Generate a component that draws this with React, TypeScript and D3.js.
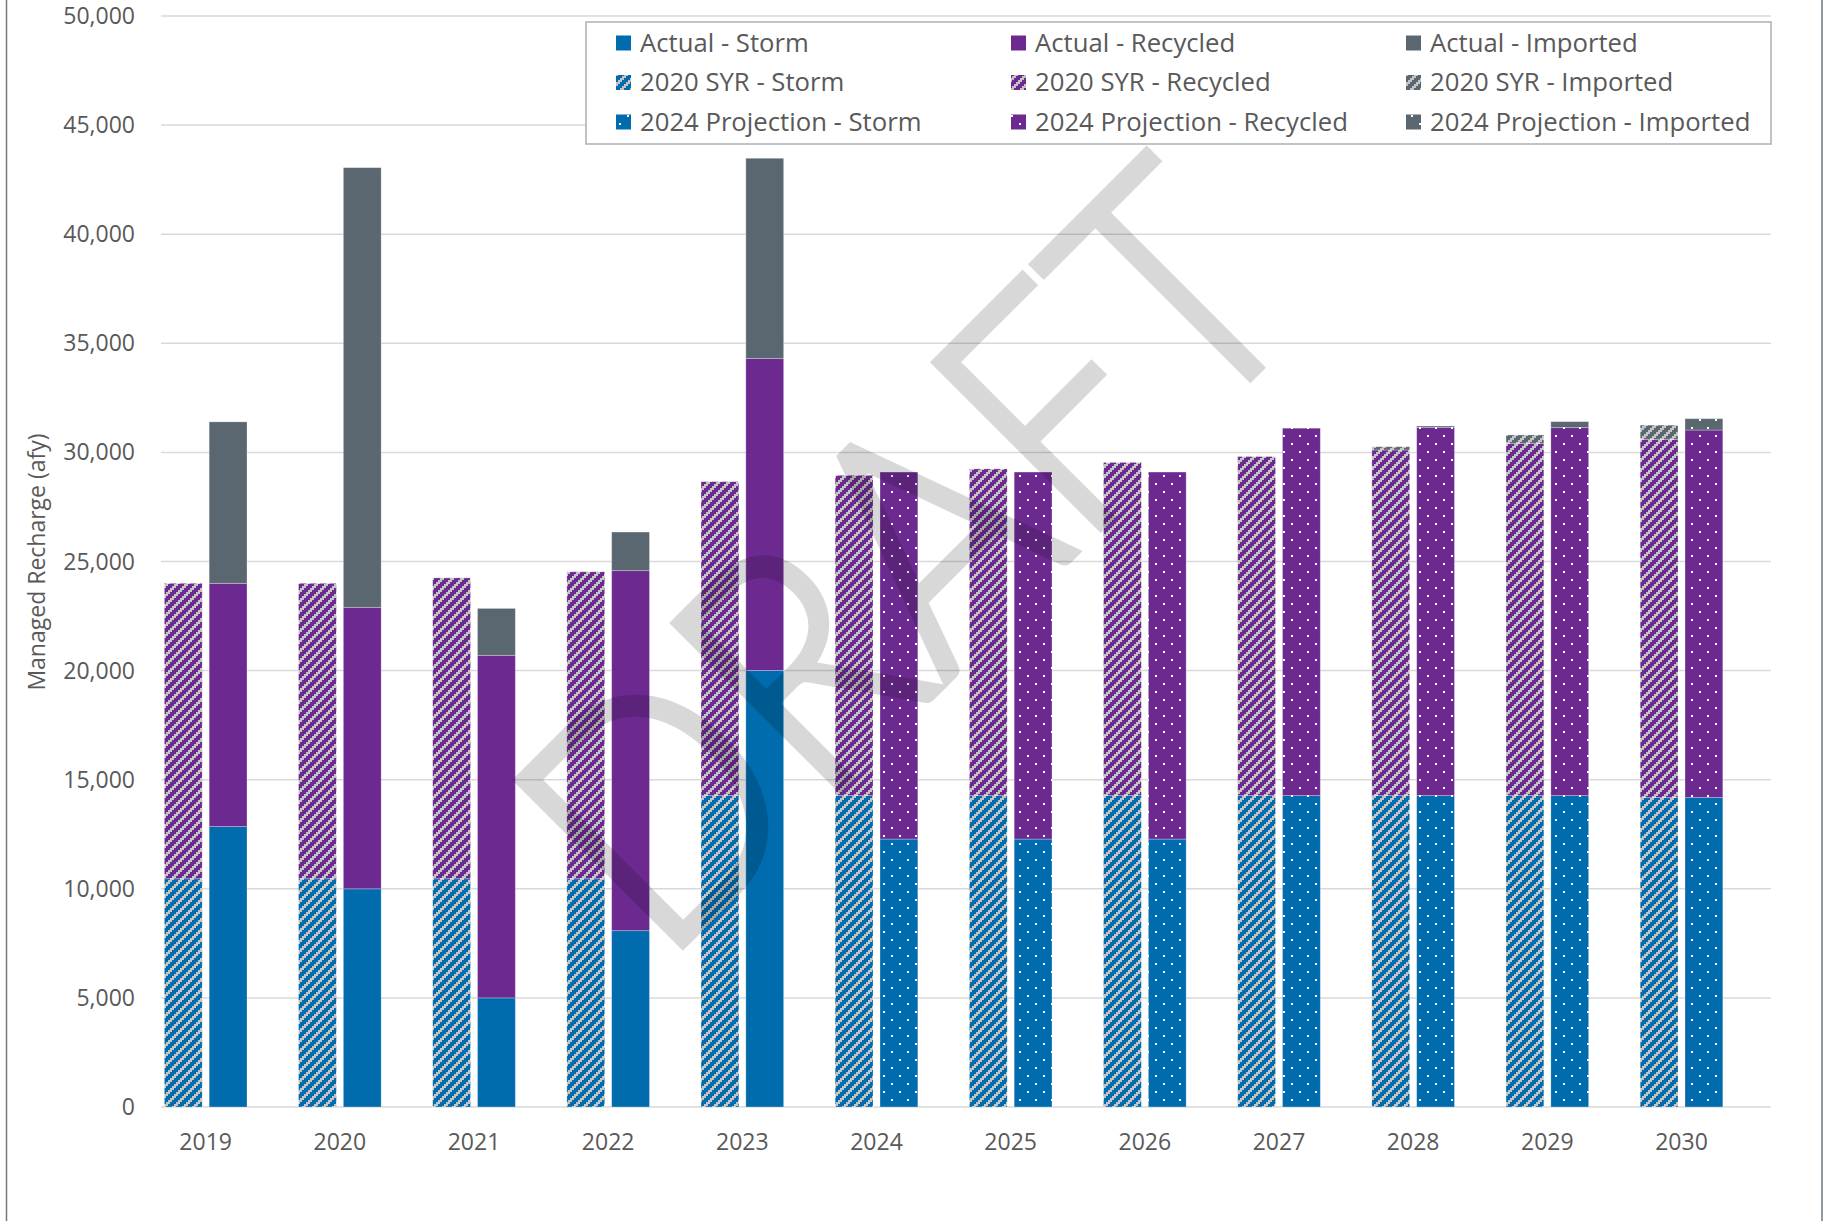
import React from "react";
import * as d3 from "d3";

// years on the category axis
const years = ["2019", "2020", "2021", "2022", "2023", "2024", "2025", "2026", "2027", "2028", "2029", "2030"];

// 2020 SYR (hatched, first bar of each year)
const syrStorm = [10460, 10460, 10460, 10460, 14270, 14270, 14270, 14270, 14270, 14270, 14270, 14180];
const syrRecycled = [13540, 13540, 13790, 14070, 14390, 14680, 14975, 15270, 15540, 15840, 16145, 16420];
const syrImported = [0, 0, 0, 0, 0, 0, 0, 0, 0, 150, 385, 650];

// Actual (solid, 2019-2023)
const actualStorm = [12850, 10000, 5000, 8080, 20010];
const actualRecycled = [11150, 12900, 15700, 16500, 14290];
const actualImported = [7400, 20150, 2150, 1770, 9180];

// 2024 Projection (dotted, 2024-2030)
const projStorm = [12280, 12280, 12280, 14270, 14270, 14270, 14180];
const projRecycled = [16820, 16820, 16820, 16840, 16880, 16865, 16845];
const projImported = [0, 0, 0, 0, 60, 275, 520];

const yTicks = [0, 5000, 10000, 15000, 20000, 25000, 30000, 35000, 40000, 45000, 50000];

const legendRows = ["Actual", "2020 SYR", "2024 Projection"];
const legendCols = ["Storm", "Recycled", "Imported"];

const colors: Record<string, string> = {
  storm: "#006bad",
  recycled: "#6c2a91",
  imported: "#5b6770",
};
const keys = ["storm", "recycled", "imported"];
const textColor = "#595959";
const font = "'Open Sans', 'Noto Sans', sans-serif";

const W = 1826;
const H = 1221;

export default function App() {
  const y = d3.scaleLinear().domain([0, 50000]).range([1107, 16]);
  const x0 = d3.scaleBand<string>().domain(years).range([161, 1771]);
  const slot = d3
    .scaleBand<string>()
    .domain(["first", "second", "spare"])
    .range([0, x0.bandwidth()])
    .paddingInner(0.156)
    .paddingOuter(0.075);

  // one row per drawn bar
  const rows: any[] = [];
  years.forEach((yr, i) => {
    rows.push({ year: yr, slot: "first", style: "hatch", storm: syrStorm[i], recycled: syrRecycled[i], imported: syrImported[i] });
    if (i < actualStorm.length) {
      rows.push({ year: yr, slot: "second", style: "solid", storm: actualStorm[i], recycled: actualRecycled[i], imported: actualImported[i] });
    } else {
      const j = i - actualStorm.length;
      rows.push({ year: yr, slot: "second", style: "dots", storm: projStorm[j], recycled: projRecycled[j], imported: projImported[j] });
    }
  });
  const series = d3.stack<any>().keys(keys)(rows);

  const fillFor = (style: string, key: string) =>
    style === "solid" ? colors[key] : `url(#${style}-${key})`;

  const styles = ["solid", "hatch", "dots"];
  // stepped "/" stripe: 10px tile, 2px steps, grey run 4px wide
  const hatchSteps = [0, 1, 2, 3, 4];

  return (
    <svg width={W} height={H} style={{ position: "absolute", left: 0, top: 0, background: "#fff" }}>
      <defs>
        {keys.map((k) => (
          <pattern key={"h" + k} id={`hatch-${k}`} width={10} height={10} patternUnits="userSpaceOnUse">
            <rect width={10} height={10} fill={colors[k]} />
            {hatchSteps.map((p) => {
              const sx = (8 - 2 * p + 10) % 10;
              return (
                <g key={p} fill="#c3c3c3" shapeRendering="crispEdges">
                  <rect x={sx} y={2 * p} width={4} height={2} />
                  <rect x={sx - 10} y={2 * p} width={4} height={2} />
                </g>
              );
            })}
          </pattern>
        ))}
        {keys.map((k) => (
          <pattern key={"d" + k} id={`dots-${k}`} width={16} height={16} patternUnits="userSpaceOnUse">
            <rect width={16} height={16} fill={colors[k]} />
            <rect x={3} y={3} width={2} height={2} fill="#fff" />
            <rect x={11} y={11} width={2} height={2} fill="#fff" />
          </pattern>
        ))}
      </defs>

      {/* chart area outline */}
      <rect x={6.5} y={-5} width={1815.5} height={1240} fill="none" stroke="#6f7a83" strokeWidth={1.5} />

      {/* gridlines */}
      <g>
        {yTicks.map((t) => (
          <line key={t} x1={161} x2={1771} y1={y(t)} y2={y(t)} stroke="#d9d9d9" strokeWidth={1.5} />
        ))}
      </g>

      {/* y tick labels */}
      <g fontFamily={font} fontSize={23} fill={textColor} textAnchor="end">
        {yTicks.map((t) => (
          <text key={t} x={135} y={y(t)} dy="0.35em">
            {d3.format(",")(t)}
          </text>
        ))}
      </g>

      <text
        transform={`translate(45,562) rotate(-90)`}
        textAnchor="middle"
        fontFamily={font}
        fontSize={23}
        fill={textColor}
      >
        Managed Recharge (afy)
      </text>

      {/* stacked bars */}
      <g>
        {series.map((s) =>
          s.map((d: any, i: number) => {
            const r = d.data;
            if (d[1] - d[0] <= 0) return null;
            return (
              <rect
                key={s.key + i}
                x={(x0(r.year) as number) + (slot(r.slot) as number)}
                width={slot.bandwidth()}
                y={y(d[1])}
                height={y(d[0]) - y(d[1])}
                fill={fillFor(r.style, s.key)}
                stroke="#ffffff"
                strokeOpacity={0.35}
                strokeWidth={0.8}
              />
            );
          })
        )}
      </g>

      {/* x labels */}
      <g fontFamily={font} fontSize={23} fill={textColor} textAnchor="middle">
        {years.map((yr) => (
          <text key={yr} x={(x0(yr) as number) + (slot("second") as number) - (slot.step() - slot.bandwidth()) / 2} y={1150}>
            {yr}
          </text>
        ))}
      </g>

      {/* watermark */}
      <g opacity={0.15}>
        <text
          transform="translate(988,640) rotate(-45)"
          textAnchor="middle"
          fontFamily="Lato, 'Open Sans', sans-serif"
          fontWeight={300}
          fontSize={330}
          textLength={925}
          lengthAdjust="spacingAndGlyphs"
          fill="#000"
          stroke="#000"
          strokeWidth={8}
          strokeLinejoin="miter"
        >
          DRAFT
        </text>
      </g>

      {/* legend */}
      <g>
        <rect x={586} y={22} width={1185} height={122} fill="#fff" stroke="#a9b0b6" strokeWidth={1.5} />
        {legendRows.map((rl, ri) =>
          legendCols.map((cl, ci) => {
            const lx = 616 + ci * 395;
            const ly = 43 + ri * 39.5;
            return (
              <g key={rl + cl}>
                <rect x={lx} y={ly - 7.5} width={15} height={15} fill={fillFor(styles[ri], keys[ci])} />
                <text x={lx + 24} y={ly} dy="0.35em" fontFamily={font} fontSize={25.7} fill={textColor}>
                  {`${rl} - ${cl}`}
                </text>
              </g>
            );
          })
        )}
      </g>
    </svg>
  );
}
